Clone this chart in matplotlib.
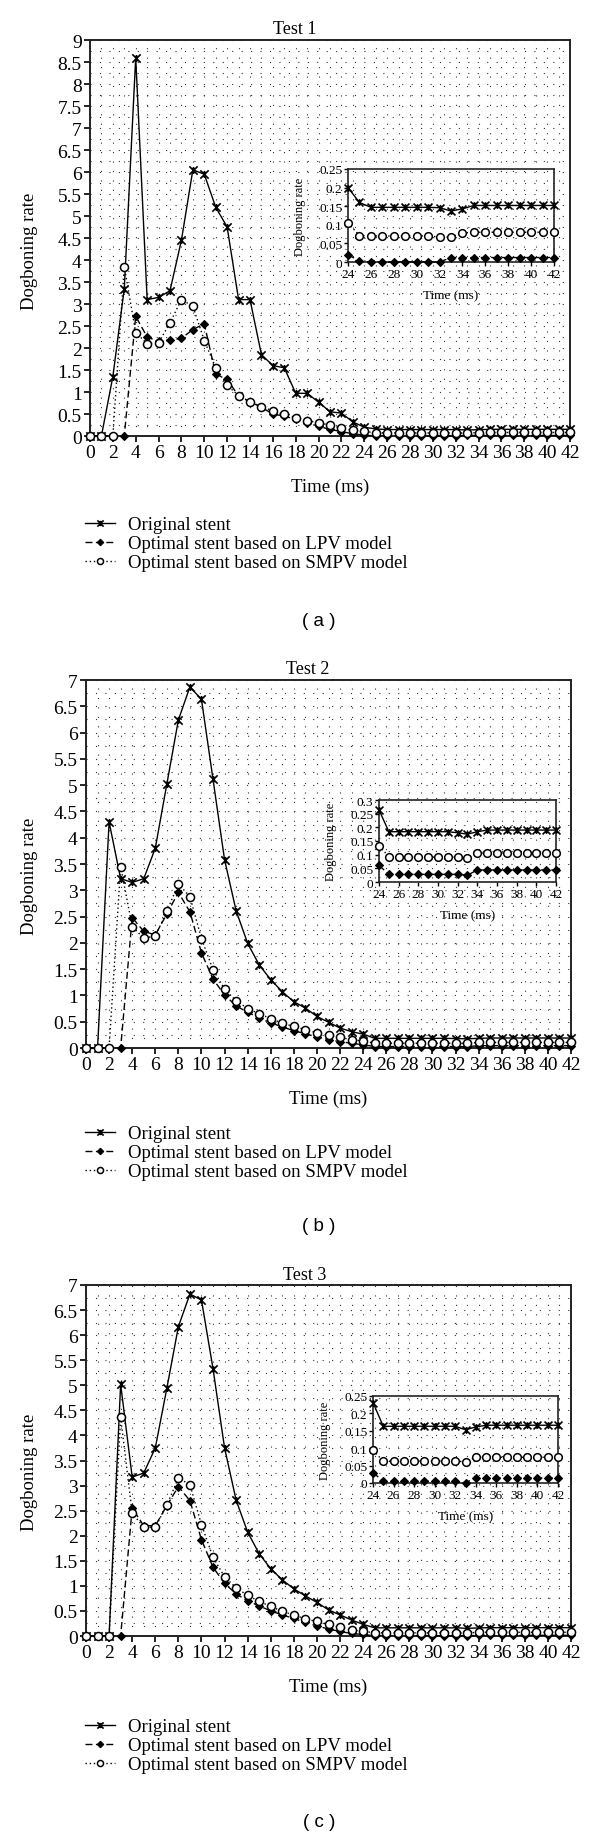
import matplotlib
matplotlib.use('Agg')
import matplotlib.pyplot as plt
from matplotlib.path import Path
from matplotlib.ticker import MultipleLocator, FormatStrFormatter

plt.rcParams['font.family'] = ['Liberation Serif', 'DejaVu Serif']

# ---------------- data ----------------
time_ms = list(range(43))

orig1 = [0, 0, 1.35, 3.35, 8.6, 3.1, 3.15, 3.3, 4.45, 6.05, 5.95, 5.2, 4.75, 3.1, 3.1,
         1.85, 1.6, 1.55, 0.97, 0.97, 0.77, 0.55, 0.52, 0.32, 0.2, 0.16,
         0.147, 0.147, 0.147, 0.147, 0.147, 0.147, 0.146, 0.137, 0.143,
         0.152, 0.152, 0.152, 0.152, 0.152, 0.152, 0.152, 0.152]
lpv1 = [0, 0, 0, 0, 2.72, 2.25, 2.15, 2.18, 2.22, 2.42, 2.55, 1.4, 1.3, 0.9, 0.78,
        0.65, 0.5, 0.45, 0.38, 0.3, 0.22, 0.15, 0.1, 0.05, 0.02, 0.002,
        0, 0, 0, 0, 0, 0, 0,
        0.012, 0.012, 0.012, 0.012, 0.012, 0.012, 0.012, 0.012, 0.012, 0.012]
smpv1 = [0, 0, 0, 3.85, 2.35, 2.1, 2.12, 2.57, 3.1, 2.95, 2.17, 1.55, 1.15, 0.92, 0.78,
         0.67, 0.57, 0.49, 0.42, 0.35, 0.3, 0.25, 0.18, 0.13, 0.105, 0.071,
         0.07, 0.07, 0.07, 0.07, 0.07, 0.07, 0.067, 0.067, 0.078,
         0.08, 0.08, 0.08, 0.08, 0.08, 0.08, 0.08, 0.08]

orig2 = [0, 0, 4.3, 3.22, 3.15, 3.22, 3.8, 5.02, 6.24, 6.87, 6.63, 5.11, 3.58, 2.61, 1.99,
         1.58, 1.3, 1.07, 0.88, 0.76, 0.6, 0.49, 0.38, 0.31, 0.264, 0.184,
         0.184, 0.184, 0.184, 0.184, 0.184, 0.184, 0.18, 0.175, 0.184,
         0.19, 0.19, 0.19, 0.19, 0.19, 0.19, 0.19, 0.19]
lpv2 = [0, 0, 0, 0, 2.48, 2.22, 2.15, 2.55, 2.96, 2.59, 1.81, 1.31, 1.01, 0.8, 0.68,
        0.57, 0.48, 0.4, 0.33, 0.27, 0.21, 0.16, 0.12, 0.09, 0.061, 0.028,
        0.028, 0.028, 0.028, 0.028, 0.028, 0.028, 0.028, 0.025,
        0.044, 0.044, 0.044, 0.044, 0.044, 0.044, 0.044, 0.044, 0.044]
smpv2 = [0, 0, 0, 3.45, 2.31, 2.09, 2.13, 2.6, 3.12, 2.88, 2.08, 1.49, 1.12, 0.9, 0.75,
         0.65, 0.56, 0.47, 0.41, 0.35, 0.29, 0.24, 0.2, 0.16, 0.132, 0.093,
         0.091, 0.091, 0.091, 0.091, 0.091, 0.091, 0.091, 0.088,
         0.106, 0.106, 0.106, 0.106, 0.106, 0.106, 0.106, 0.106, 0.106]

orig3 = [0, 0, 0, 5.02, 3.17, 3.25, 3.75, 4.94, 6.17, 6.82, 6.7, 5.33, 3.75, 2.71, 2.07,
         1.64, 1.34, 1.12, 0.94, 0.8, 0.67, 0.52, 0.42, 0.32, 0.231, 0.163,
         0.163, 0.163, 0.163, 0.163, 0.163, 0.163, 0.163, 0.153, 0.161,
         0.166, 0.166, 0.166, 0.166, 0.166, 0.166, 0.166, 0.166]
lpv3 = [0, 0, 0, 0, 2.55, 2.2, 2.2, 2.6, 2.98, 2.7, 1.92, 1.37, 1.05, 0.84, 0.7,
        0.6, 0.5, 0.42, 0.35, 0.27, 0.2, 0.14, 0.09, 0.05, 0.03, 0.005,
        0.005, 0.005, 0.005, 0.005, 0.005, 0.005, 0.005, 0.001,
        0.014, 0.014, 0.014, 0.014, 0.014, 0.014, 0.014, 0.014, 0.014]
smpv3 = [0, 0, 0, 4.36, 2.45, 2.17, 2.17, 2.61, 3.15, 3.02, 2.22, 1.57, 1.18, 0.96, 0.81,
         0.69, 0.59, 0.49, 0.42, 0.34, 0.29, 0.23, 0.17, 0.12, 0.094, 0.063,
         0.063, 0.063, 0.063, 0.063, 0.063, 0.063, 0.063, 0.061,
         0.074, 0.074, 0.074, 0.074, 0.074, 0.074, 0.074, 0.074, 0.074]

series_labels = ['Original stent', 'Optimal stent based on LPV model',
                 'Optimal stent based on SMPV model']
titles = ['Test 1', 'Test 2', 'Test 3']
captions = ['( a )', '( b )', '( c )']
inset_start = 24

# ---------------- styling ----------------
W, H = 600, 1840
fig = plt.figure(figsize=(W / 100, H / 100), dpi=100)


def rect(x0, y0, x1, y1):
    return [x0 / W, 1 - y1 / H, (x1 - x0) / W, (y1 - y0) / H]


xmark = Path([(-1, -1), (1, 1), (-1, 1), (1, -1), (0, -0.85), (0, 0.85)],
             [Path.MOVETO, Path.LINETO] * 3)

styles = [
    dict(color='black', linestyle='-', lw=1.0, marker=xmark, ms=6, mew=1.2,
         mfc='black', mec='black'),
    dict(color='black', linestyle=(0, (5, 2.5)), lw=1.0, marker='D', ms=4.4,
         mfc='black', mec='black', mew=0.8),
    dict(color='black', linestyle=(0, (1, 2)), lw=1.0, marker='o', ms=5.8,
         mfc='white', mec='black', mew=1.1),
]

layout = [
    dict(main=(90, 41, 570, 437), inset=(348, 170, 554, 263), ymax=9, iymax=0.25,
         title=(295, 30), leg=(85, 517), cap=(319, 622)),
    dict(main=(86, 681, 571, 1049), inset=(379, 801, 556, 883), ymax=7, iymax=0.3,
         title=(308, 670), leg=(85, 1126), cap=(319, 1227)),
    dict(main=(86, 1286, 571, 1637), inset=(373, 1397, 558, 1484), ymax=7, iymax=0.25,
         title=(305, 1275), leg=(85, 1719), cap=(319, 1823)),
]

data = [(orig1, lpv1, smpv1), (orig2, lpv2, smpv2), (orig3, lpv3, smpv3)]

for k in range(3):
    L = layout[k]
    x0, y0, x1, y1 = L['main']
    ax = fig.add_axes(rect(*L['main']))
    handles = []
    for s, st in zip(data[k], styles):
        h, = ax.plot(time_ms, s, clip_on=False, zorder=3, **st)
        handles.append(h)
    ax.set_xlim(0, 42)
    ax.set_ylim(0, L['ymax'])
    ax.xaxis.set_major_locator(MultipleLocator(2))
    ax.xaxis.set_minor_locator(MultipleLocator(1))
    ax.yaxis.set_major_locator(MultipleLocator(0.5))
    ax.yaxis.set_minor_locator(MultipleLocator(0.25))
    ax.yaxis.set_major_formatter(FormatStrFormatter('%g'))
    ax.set_axisbelow(True)
    ax.grid(which='both', linestyle=(0, (1, 7.5)), color='0.2', linewidth=0.8)
    ax.tick_params(which='minor', length=0)
    ax.tick_params(which='major', direction='out', length=4, width=1.2,
                   labelsize=14, pad=2)
    for sp in ax.spines.values():
        sp.set_linewidth(1.4)
        sp.set_color('#222222')
    ax.set_ylabel('Dogboning rate', fontsize=13.5, va='center')
    ax.yaxis.set_label_coords((30 - x0) / (x1 - x0), 0.47)
    ax.set_xlabel('Time (ms)', fontsize=13.5, va='center')
    ax.xaxis.set_label_coords(0.5, -50 / (y1 - y0))

    fig.text(L['title'][0] / W, 1 - L['title'][1] / H, titles[k], fontsize=13,
             ha='center', va='center')

    # inset
    ix0, iy0, ix1, iy1 = L['inset']
    ins = fig.add_axes(rect(*L['inset']))
    ins.patch.set_alpha(0)
    for s, st in zip(data[k], styles):
        st2 = dict(st)
        st2['ms'] = st['ms'] * 0.95
        ins.plot(time_ms[inset_start:], s[inset_start:], clip_on=False, zorder=3, **st2)
    ins.set_xlim(24, 42)
    ins.set_ylim(0, L['iymax'])
    ins.xaxis.set_major_locator(MultipleLocator(2))
    ins.yaxis.set_major_locator(MultipleLocator(0.05))
    ins.yaxis.set_major_formatter(FormatStrFormatter('%g'))
    ins.tick_params(direction='out', length=3, width=1.0, labelsize=9.5, pad=1)
    for sp in ins.spines.values():
        sp.set_linewidth(1.2)
        sp.set_color('#222222')
    ins.set_ylabel('Dogboning rate', fontsize=9, va='center')
    ins.yaxis.set_label_coords(-48 / (ix1 - ix0), 0.5)
    ins.set_xlabel('Time (ms)', fontsize=9.5, va='center')
    ins.xaxis.set_label_coords(0.5, -33 / (iy1 - iy0))

    fig.legend(handles, series_labels, loc='upper left',
               bbox_to_anchor=(L['leg'][0] / W, 1 - L['leg'][1] / H),
               frameon=False, fontsize=13.5, handlelength=1.6, handletextpad=0.7,
               labelspacing=0.1, borderpad=0, borderaxespad=0, markerscale=0.75)

    fig.text(L['cap'][0] / W, 1 - L['cap'][1] / H, captions[k], fontsize=13.5,
             ha='center', va='center', family=['Liberation Sans', 'DejaVu Sans'])

fig.savefig('out.png', dpi=100, facecolor='white')
